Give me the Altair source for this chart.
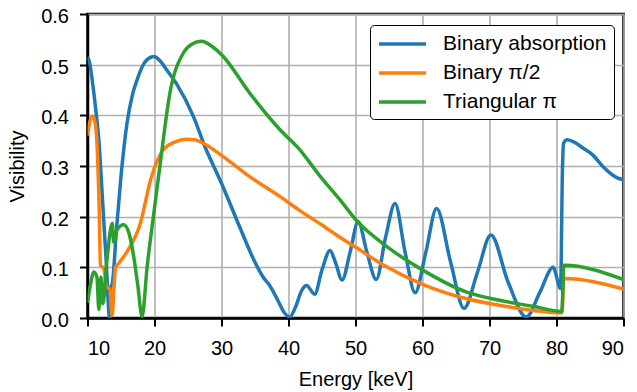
import altair as alt
import pandas as pd

series_names = ["Binary absorption", "Binary π/2", "Triangular π"]
series_colors = ["#1f77b4", "#ff7f0e", "#2ca02c"]

abs_energy = [10.0, 10.3, 10.7, 11.2, 11.7, 12.3, 12.8, 13.3, 13.45, 13.7, 14.3, 15.0,
              15.9, 16.7, 17.4, 18.2, 18.9, 19.9, 20.8, 21.8, 23.3, 25.8, 27.5, 30.0,
              32.7, 35.0, 36.2, 37.3, 38.4, 39.3, 40.2, 41.0, 42.0, 42.7, 43.9, 45.0,
              46.2, 47.0, 48.0, 49.2, 50.4, 51.7, 53.1, 54.5, 55.9, 57.4, 58.9, 60.5,
              62.1, 64.2, 66.2, 68.2, 70.2, 72.8, 75.5, 77.5, 79.5, 80.6, 80.9, 81.05,
              81.6, 82.5, 84.0, 85.4, 87.0, 88.0, 89.0, 90.0]
abs_vis = [0.515, 0.505, 0.47, 0.415, 0.35, 0.22, 0.11, 0.0, 0.06, 0.068, 0.17, 0.28,
           0.385, 0.44, 0.47, 0.497, 0.51, 0.516, 0.508, 0.49, 0.462, 0.398, 0.339, 0.266,
           0.18, 0.11, 0.081, 0.062, 0.035, 0.012, 0.002, 0.02, 0.055, 0.064, 0.047, 0.095,
           0.133, 0.11, 0.075, 0.13, 0.19, 0.13, 0.076, 0.16, 0.226, 0.13, 0.05, 0.13,
           0.216, 0.11, 0.019, 0.09, 0.164, 0.07, 0.002, 0.05, 0.1, 0.058, 0.3, 0.345,
           0.352, 0.348, 0.335, 0.322, 0.298, 0.286, 0.277, 0.273]

half_energy = [10.0, 10.4, 10.85, 11.2, 11.5, 11.7, 11.94, 12.43, 12.84, 13.33, 13.67,
               13.93, 14.18, 14.67, 15.9, 17.9, 19.4, 21.3, 23.0, 24.8, 26.0, 27.3, 30.2,
               34.2, 38.7, 41.7, 44.7, 47.5, 50.1, 54.1, 60.1, 66.6, 71.5, 76.5, 80.8,
               81.1, 90.0]
half_vis = [0.36, 0.39, 0.398, 0.38, 0.32, 0.24, 0.104, 0.098, 0.061, 0.058, 0.005,
            0.055, 0.1, 0.108, 0.131, 0.187, 0.272, 0.332, 0.347, 0.353, 0.352, 0.345, 0.319,
            0.279, 0.24, 0.212, 0.186, 0.161, 0.139, 0.105, 0.066, 0.038, 0.025, 0.015, 0.01,
            0.078, 0.057]

tri_energy = [10.0, 10.5, 10.94, 11.4, 11.7, 12.0, 12.3, 12.9, 13.7, 13.9, 14.4, 15.4,
              16.2, 16.9, 17.5, 18.15, 18.9, 19.9, 20.8, 22.3, 24.3, 25.5, 27.0, 28.5,
              30.2, 34.2, 38.7, 41.7, 44.7, 47.7, 50.1, 55.1, 60.1, 66.6, 71.5, 76.5,
              80.8, 81.1, 90.0]
tri_vis = [0.03, 0.07, 0.091, 0.081, 0.017, 0.081, 0.028, 0.114, 0.187, 0.15, 0.174, 0.184,
           0.167, 0.121, 0.065, 0.003, 0.101, 0.207, 0.299, 0.444, 0.523, 0.54, 0.546, 0.537,
           0.517, 0.444, 0.372, 0.332, 0.28, 0.233, 0.193, 0.137, 0.094, 0.051, 0.035, 0.023,
           0.013, 0.104, 0.076]

x_ticks = [10, 20, 30, 40, 50, 60, 70, 80, 90]
y_ticks = [0.0, 0.1, 0.2, 0.3, 0.4, 0.5, 0.6]

rows = []
for name, es, vs in zip(series_names, [abs_energy, half_energy, tri_energy],
                        [abs_vis, half_vis, tri_vis]):
    for i, (e, v) in enumerate(zip(es, vs)):
        rows.append({"series": name, "energy": e, "visibility": v, "idx": i})
df = pd.DataFrame(rows)

FONT = "Liberation Sans"

color = alt.Color(
    "series:N",
    scale=alt.Scale(domain=series_names, range=series_colors),
    legend=alt.Legend(
        title=None,
        orient="none",
        legendX=282.5,
        legendY=11,
        symbolType="M-1,0L3.7,0",
        symbolSize=400,
        symbolStrokeWidth=3.5,
        labelFontSize=21,
        labelFont=FONT,
        labelColor="black",
        labelLimit=400,
        labelOffset=42,
        rowPadding=7,
        padding=7,
        strokeColor="black",
        fillColor="white",
        cornerRadius=4,
    ),
)

base = alt.Chart(df).mark_line(strokeWidth=3.5, clip=True, interpolate="monotone").encode(
    x=alt.X(
        "energy:Q",
        scale=alt.Scale(domain=[10, 90], nice=False, zero=False),
        axis=alt.Axis(values=x_ticks, title="Energy [keV]", format="d",
                      titleY=67, titleBaseline="alphabetic", labelPadding=12),
    ),
    y=alt.Y(
        "visibility:Q",
        scale=alt.Scale(domain=[0, 0.6], nice=False, zero=False),
        axis=alt.Axis(values=y_ticks, title="Visibility", format=".1f",
                      titleX=-64, titleY=152, titleAngle=270, titleAlign="center",
                      titleBaseline="alphabetic", labelPadding=11, labelOffset=2.5),
    ),
    color=color,
    order="idx:Q",
)

layers = [base.transform_filter(alt.datum.series == n) for n in series_names]

chart = alt.layer(*layers).properties(
    width=536,
    height=304,
    autosize=alt.AutoSizeParams(type="none"),
    padding={"left": 79.5, "top": 6, "right": 5, "bottom": 74},
).configure_axis(
    labelFont=FONT,
    titleFont=FONT,
    labelFontSize=20,
    titleFontSize=20,
    titleFontWeight="normal",
    labelColor="black",
    titleColor="black",
    domainColor="black",
    domainWidth=2.5,
    ticks=True,
    tickColor="black",
    tickWidth=2,
    tickSize=8,
    gridColor="#b0b0b0",
    gridWidth=1.6,
).configure_view(
    stroke="black",
    strokeWidth=2.5,
)

chart.save("out.html", embed_options={"renderer": "svg", "actions": False})
